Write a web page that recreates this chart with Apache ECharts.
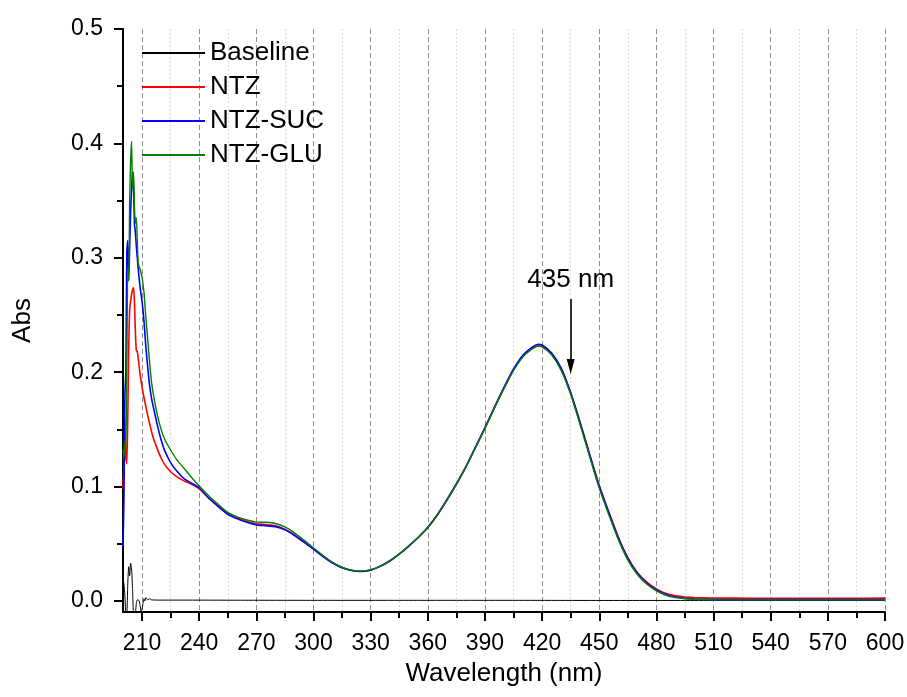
<!DOCTYPE html>
<html>
<head>
<meta charset="utf-8">
<script src="https://cdn.jsdelivr.net/npm/echarts@6/dist/echarts.min.js"></script>
<style>html,body{margin:0;padding:0;background:#fff}#c{width:907px;height:697px}</style>
</head>
<body>
<div id="c"></div>
<script>
// ---- data ----
const wavelengths = [200,200.5,201,201.5,202,202.5,203,203.5,204,204.5,205,205.5,206,206.5,207,207.5,208,209,210,211,212,213,214,215,216,218,220,222,225,228,232,236,240,245,250,255,260,265,270,275,280,285,290,295,300,305,310,315,320,325,330,335,340,345,350,355,360,365,370,375,380,385,390,395,400,405,410,415,418,420,425,430,435,440,445,450,455,460,465,470,475,480,485,490,495,500,510,520,540,560,580,600];
const ntz = [0.098,0.12,0.16,0.125,0.12,0.16,0.22,0.255,0.262,0.268,0.272,0.274,0.262,0.235,0.219,0.218,0.212,0.198,0.187,0.178,0.170,0.162,0.155,0.148,0.142,0.133,0.125,0.119,0.113,0.109,0.105,0.102,0.098,0.090,0.083,0.0765,0.0725,0.0695,0.0675,0.0668,0.0658,0.0628,0.0578,0.0518,0.0456,0.0393,0.0336,0.0293,0.0268,0.026,0.0271,0.0305,0.035,0.041,0.048,0.0555,0.064,0.075,0.088,0.102,0.117,0.134,0.151,0.169,0.186,0.202,0.214,0.221,0.223,0.2225,0.216,0.203,0.182,0.156,0.128,0.101,0.078,0.056,0.038,0.025,0.0165,0.0105,0.0065,0.0045,0.0035,0.003,0.0026,0.0025,0.0024,0.0024,0.0024,0.0025];
const ntzSuc = [0.047,0.09,0.18,0.2,0.305,0.315,0.28,0.31,0.34,0.36,0.375,0.365,0.33,0.322,0.31,0.30,0.29,0.274,0.262,0.245,0.222,0.204,0.188,0.177,0.169,0.154,0.141,0.131,0.121,0.114,0.107,0.103,0.099,0.090,0.0825,0.0758,0.0718,0.0688,0.0665,0.0658,0.065,0.0622,0.0573,0.0515,0.0453,0.0389,0.0332,0.029,0.0266,0.0258,0.027,0.0303,0.035,0.041,0.048,0.0557,0.0645,0.0755,0.0885,0.1025,0.1175,0.1345,0.1515,0.1695,0.1868,0.2028,0.215,0.2222,0.2245,0.2238,0.2168,0.2035,0.182,0.1555,0.1275,0.1005,0.0772,0.0552,0.0372,0.0242,0.0155,0.0096,0.0058,0.0035,0.0023,0.0018,0.0014,0.0012,0.0012,0.0012,0.0012,0.0012];
const ntzGlu = [0.132,0.125,0.14,0.135,0.2,0.29,0.28,0.35,0.385,0.402,0.36,0.375,0.345,0.33,0.335,0.315,0.295,0.29,0.283,0.27,0.248,0.228,0.208,0.191,0.18,0.163,0.150,0.141,0.132,0.124,0.116,0.108,0.1005,0.092,0.0845,0.0775,0.0735,0.0708,0.069,0.0688,0.0678,0.0648,0.0596,0.0532,0.0465,0.0398,0.0338,0.0295,0.027,0.0262,0.0273,0.0306,0.0352,0.0412,0.0482,0.0558,0.0645,0.0755,0.0883,0.1022,0.1172,0.134,0.1508,0.1688,0.1858,0.2015,0.2135,0.2205,0.2228,0.2222,0.2152,0.2015,0.1805,0.1538,0.1258,0.0985,0.0755,0.0538,0.0358,0.0232,0.0146,0.0088,0.005,0.003,0.002,0.0015,0.0011,0.001,0.001,0.001,0.001,0.001];
const baselineWavelengths = [200,200.5,201,201.5,202,202.5,203,203.5,204,204.5,205,205.5,206,206.5,207,207.5,208,208.5,209,209.5,210,210.5,211,211.5,212,213,214,215,220,230,260,300,350,400,450,500,550,600];
const baseline = [0.018,0.015,0.005,-0.01,-0.01,0.015,0.03,0.022,0.033,0.028,0.012,-0.01,-0.01,-0.01,-0.002,0.001,0.001,0.0,-0.004,-0.009,-0.007,-0.002,0.002,0.0,0.003,0.001,0.002,0.001,0.0008,0.0008,0.0007,0.0006,0.0006,0.0006,0.0005,0.0005,0.0005,0.0005];
const seriesNames = ['Baseline','NTZ','NTZ-SUC','NTZ-GLU'];
const xMajorTicks = [210,240,270,300,330,360,390,420,450,480,510,540,570,600];
const xMinorTicks = [225,255,285,315,345,375,405,435,465,495,525,555,585];
const yMajorTicks = [0,0.1,0.2,0.3,0.4,0.5];
const yMinorTicks = [0.05,0.15,0.25,0.35,0.45];
const peakLabel = '435 nm';
const peakWavelength = 435;
const arrowStartAbs = 0.264;
const arrowEndAbs = 0.205;
const labelAbs = 0.281;

// ---- chart ----
const zip = (xs, ys) => xs.map((x, i) => [x, ys[i]]);
const FONT = '"Liberation Sans", Arial, sans-serif';
const chart = echarts.init(document.getElementById('c'), null, {renderer: 'canvas'});

const lineSeries = (name, xs, ys, color, width, z) => ({
  name, type: 'line', data: zip(xs, ys), showSymbol: false, symbol: 'none',
  smooth: 0.2, lineStyle: {color, width}, itemStyle: {color}, z, clip: true, animation: false
});

chart.setOption({
  animation: false,
  backgroundColor: '#fff',
  textStyle: {fontFamily: FONT, color: '#000'},
  grid: {left: 123, right: 22, top: 29, bottom: 85, containLabel: false, outerBoundsMode: 'none'},
  legend: {
    orient: 'vertical', left: 137, top: 35, itemWidth: 63, itemHeight: 2, itemGap: 8,
    icon: 'rect',
    textStyle: {fontSize: 26, color: '#000', fontFamily: FONT},
    data: seriesNames
  },
  xAxis: [{
    type: 'value', min: 200, max: 600, position: 'bottom',
    name: 'Wavelength (nm)', nameLocation: 'middle', nameGap: 49,
    nameTextStyle: {fontSize: 26, color: '#000', fontFamily: FONT},
    axisLine: {onZero: false, lineStyle: {color: '#000', width: 2}},
    axisTick: {show: true, customValues: xMajorTicks, length: 9, lineStyle: {color: '#000', width: 2}},
    axisLabel: {customValues: xMajorTicks, fontSize: 23, color: '#000', margin: 20, fontFamily: FONT},
    splitLine: {show: true, lineStyle: {color: '#909090', width: 1, type: [5, 3]}}
  }, {
    type: 'value', min: 200, max: 600, position: 'bottom',
    axisLine: {show: false, onZero: false},
    axisTick: {show: true, customValues: xMinorTicks, length: 6, lineStyle: {color: '#000', width: 2}},
    axisLabel: {show: false},
    splitLine: {show: true, lineStyle: {color: '#e8d6d6', width: 1, type: [2, 2]}}
  }],
  yAxis: [{
    type: 'value', min: -0.0096, max: 0.5, position: 'left',
    name: 'Abs', nameLocation: 'middle', nameGap: 87, nameRotate: 90,
    nameTextStyle: {fontSize: 26, color: '#000', fontFamily: FONT},
    axisLine: {onZero: false, lineStyle: {color: '#000', width: 2}},
    axisTick: {show: true, customValues: yMajorTicks, length: 9, lineStyle: {color: '#000', width: 2}},
    axisLabel: {customValues: yMajorTicks, fontSize: 23, color: '#000', margin: 20, fontFamily: FONT,
      formatter: v => v.toFixed(1)},
    splitLine: {show: false}
  }, {
    type: 'value', min: -0.0096, max: 0.5, position: 'left',
    axisLine: {show: false, onZero: false},
    axisTick: {show: true, customValues: yMinorTicks, length: 6, lineStyle: {color: '#000', width: 2}},
    axisLabel: {show: false},
    splitLine: {show: false}
  }],
  series: [
    lineSeries('Baseline', baselineWavelengths, baseline, '#000000', 1, 2),
    lineSeries('NTZ', wavelengths, ntz, '#ff0000', 1.6, 3),
    lineSeries('NTZ-SUC', wavelengths, ntzSuc, '#0000ff', 1.6, 4),
    lineSeries('NTZ-GLU', wavelengths, ntzGlu, '#008000', 1.4, 5),
    {
      name: 'annotation', type: 'line', data: [], z: 6, silent: true,
      markLine: {
        silent: true, animation: false,
        symbol: ['none', 'triangle'], symbolSize: [8, 15],
        lineStyle: {color: '#000', width: 1.6, type: 'solid'},
        label: {show: false},
        data: [[{coord: [peakWavelength, arrowStartAbs]}, {coord: [peakWavelength, arrowEndAbs]}]]
      },
      markPoint: {
        silent: true, animation: false, symbol: 'circle', symbolSize: 0,
        label: {show: true, position: 'inside', formatter: peakLabel, fontSize: 26, color: '#000', fontFamily: FONT},
        data: [{coord: [peakWavelength, labelAbs]}]
      }
    }
  ]
});
</script>
</body>
</html>
